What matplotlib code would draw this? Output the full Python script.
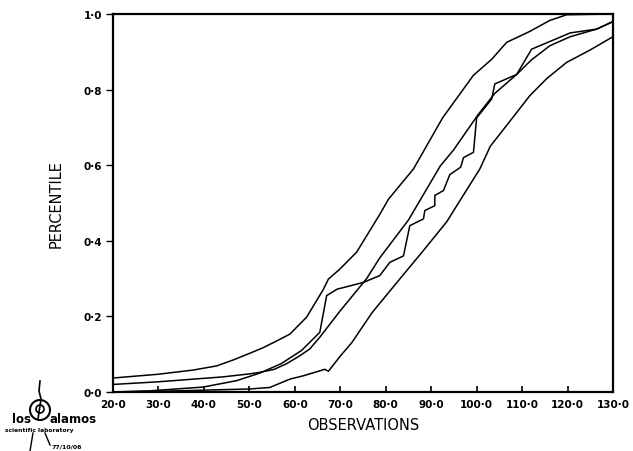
import matplotlib
matplotlib.use("Agg")
import matplotlib.pyplot as plt
from matplotlib.patches import Circle
from matplotlib.lines import Line2D
from matplotlib.transforms import IdentityTransform

# ---- data ----
x_ticks = [20, 30, 40, 50, 60, 70, 80, 90, 100, 110, 120, 130]
x_tick_labels = ["20·0", "30·0", "40·0", "50·0", "60·0", "70·0", "80·0",
                 "90·0", "100·0", "110·0", "120·0", "130·0"]
y_ticks = [0.0, 0.2, 0.4, 0.6, 0.8, 1.0]
y_tick_labels = ["0·0", "0·2", "0·4", "0·6", "0·8", "1·0"]

# upper smooth curve
a_x = [20, 30, 37.6, 42.8, 46.5, 50, 53, 56, 58.9, 62.6, 64.1, 66.3, 67.4,
       69.9, 73.6, 78.7, 80.6, 86.1, 92.5, 99.3, 103.3, 106.6, 111.7, 116.1,
       119.8, 130]
a_y = [0.037, 0.047, 0.058, 0.069, 0.085, 0.102, 0.117, 0.135, 0.153, 0.198,
       0.228, 0.272, 0.299, 0.325, 0.37, 0.47, 0.51, 0.59, 0.725, 0.838, 0.88,
       0.925, 0.954, 0.983, 0.998, 1.0]

# middle smooth curve
b_x = [20, 30, 37.6, 44.2, 50.1, 52.3, 55.5, 58.2, 61, 63.3, 65.5, 70, 75.8,
       78.7, 85, 92, 94.9, 100.4, 104, 108.8, 112, 116.1, 120.6, 126.4, 130]
b_y = [0.02, 0.027, 0.034, 0.04, 0.048, 0.052, 0.06, 0.075, 0.095, 0.114,
       0.145, 0.215, 0.30, 0.355, 0.455, 0.598, 0.64, 0.735, 0.79, 0.84,
       0.878, 0.916, 0.94, 0.96, 0.98]

# jagged empirical curve
c_x = [20, 28, 39.8, 47.2, 52.3, 57, 61.5, 65.5, 67, 69.3, 75.1, 78.7, 80.9,
       83.9, 85.3, 88.3, 88.6, 90.8, 90.8, 92.7, 94.1, 96.5, 97.1, 99.3, 100,
       103.3, 104, 108.8, 112.1, 120.6, 126.4, 130]
c_y = [0.0, 0.003, 0.013, 0.03, 0.05, 0.075, 0.11, 0.158, 0.255, 0.272, 0.29,
       0.308, 0.343, 0.36, 0.44, 0.458, 0.48, 0.493, 0.52, 0.533, 0.575,
       0.595, 0.62, 0.634, 0.725, 0.775, 0.815, 0.84, 0.907, 0.95, 0.96, 0.98]

# lower smooth curve
d_x = [20, 34, 50.1, 54.5, 56.5, 58.9, 61.9, 65.5, 66.6, 67.4, 70, 72.5, 77,
       83.3, 88, 93.4, 96, 100.7, 103, 109.5, 111.7, 115.5, 119.8, 125, 130]
d_y = [0.0, 0.003, 0.008, 0.012, 0.022, 0.034, 0.043, 0.056, 0.06, 0.055,
       0.095, 0.13, 0.21, 0.302, 0.37, 0.45, 0.5, 0.59, 0.65, 0.75, 0.784,
       0.83, 0.872, 0.905, 0.94]

# ---- figure ----
W, H = 633, 452
fig = plt.figure(figsize=(W / 100, H / 100), dpi=100)
ax = fig.add_axes([113 / W, 1 - 393 / H, 500 / W, 378 / H])

for xs, ys in [(a_x, a_y), (b_x, b_y), (c_x, c_y), (d_x, d_y)]:
    ax.plot(xs, ys, color="black", lw=1.1, solid_joinstyle="round")

ax.set_xlim(20, 130)
ax.set_ylim(0, 1.0)
for s in ax.spines.values():
    s.set_linewidth(1.6)

ax.set_xticks(x_ticks)
ax.set_xticklabels(x_tick_labels, fontsize=7.5, fontweight="bold")
ax.set_yticks(y_ticks)
ax.set_yticklabels(y_tick_labels, fontsize=7.5, fontweight="bold")
ax.tick_params(axis="x", direction="in", length=4, width=1.2, pad=5)
ax.tick_params(axis="y", direction="out", length=5, width=1.0, pad=3)

ax.set_xlabel("OBSERVATIONS", fontsize=10.5, labelpad=6)
ax.set_ylabel("PERCENTILE", fontsize=10.5, labelpad=14)

# ---- los alamos logo ----
tr = IdentityTransform()
fig.add_artist(Circle((40, H - 411), 10, transform=tr, fill=False, lw=1.5,
                      color="black"))
fig.add_artist(Circle((40, H - 410), 4, transform=tr, fill=False, lw=1.2,
                      color="black"))
fig.add_artist(Line2D([40, 39, 41, 38], [H - 382, H - 392, H - 400, H - 420],
                      transform=tr, color="black", lw=1.2))
fig.add_artist(Line2D([33, 30], [H - 434, H - 452], transform=tr,
                      color="black", lw=1.0))
fig.add_artist(Line2D([45, 50], [H - 434, H - 446], transform=tr,
                      color="black", lw=1.0))
fig.text(12 / W, 1 - 423 / H, "los", fontsize=8.5, fontweight="bold",
         ha="left", va="baseline")
fig.text(50 / W, 1 - 423 / H, "alamos", fontsize=8.5, fontweight="bold",
         ha="left", va="baseline")
fig.text(5 / W, 1 - 432 / H, "scientific laboratory", fontsize=4.3,
         fontweight="bold", ha="left", va="baseline")
fig.text(52 / W, 1 - 449 / H, "77/10/06", fontsize=4.5, fontweight="bold",
         ha="left", va="baseline")

fig.savefig("out.png", dpi=100)
